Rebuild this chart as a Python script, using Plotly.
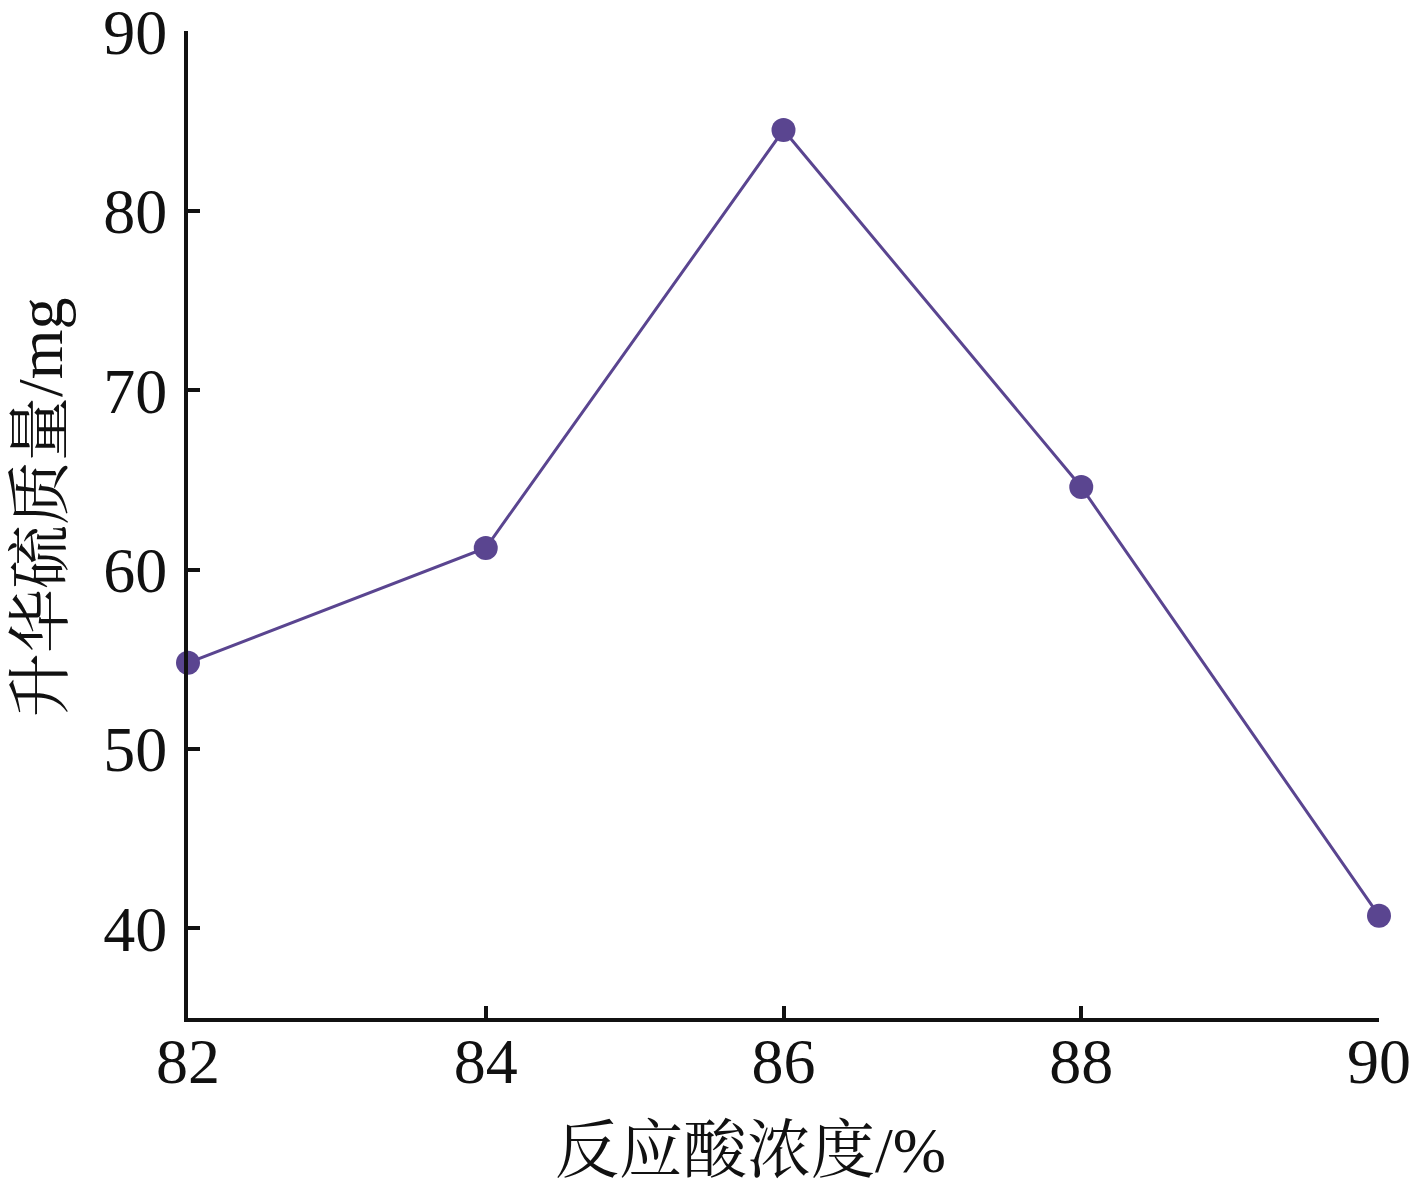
import plotly.graph_objects as go

x_vals = [82, 84, 86, 88, 90]
y_vals = [54.8, 61.2, 84.5, 64.6, 40.7]
x_ticks = [82, 84, 86, 88, 90]
y_ticks = [40, 50, 60, 70, 80, 90]
x_title = "反应酸浓度/%"
y_title = "升华硫质量/mg"

color = "#5a4590"
font_family = "Liberation Serif, Times New Roman, Noto Serif CJK SC, Noto Sans CJK SC, serif"

# page body has an 8px offset; plot area target: x 188..1379, y 31..1018 on screen
OFF = 8
L, R, T, B = 188 - OFF, 1417 - 1379, 31 - OFF, 1181 - 1018
W, H = 1417 - OFF, 1181 - OFF
PW, PH = 1379 - 188, 1018 - 31

fig = go.Figure()
fig.add_trace(go.Scatter(
    x=x_vals, y=y_vals, mode="lines+markers",
    line=dict(color=color, width=3),
    marker=dict(color=color, size=24),
    cliponaxis=False,
))

fig.update_layout(
    width=W, height=H,
    margin=dict(l=L, r=R, t=T, b=B),
    paper_bgcolor="white", plot_bgcolor="white",
    showlegend=False,
    font=dict(family=font_family, color="#111111", size=60),
)
fig.update_xaxes(
    range=[82, 90], tickvals=x_ticks, ticktext=[str(v) for v in x_ticks],
    showline=True, linecolor="#111111", linewidth=4, mirror=False,
    ticks="inside", ticklen=12, tickwidth=4, tickcolor="#111111",
    showgrid=False, zeroline=False, automargin=False,
    ticklabeloverflow="allow", ticklabelstandoff=-16,
    tickfont=dict(size=64, family=font_family),
)
fig.update_yaxes(
    range=[35, 90.02], tickvals=y_ticks, ticktext=[str(v) for v in y_ticks],
    showline=True, linecolor="#111111", linewidth=4, mirror=False,
    ticks="inside", ticklen=12, tickwidth=4, tickcolor="#111111",
    showgrid=False, zeroline=False, automargin=False,
    ticklabeloverflow="allow", ticklabelstandoff=4,
    tickfont=dict(size=64, family=font_family),
)
fig.add_annotation(
    text=x_title, xref="paper", yref="paper", x=(750 - 188) / PW,
    y=-(1150 - 1018) / PH, showarrow=False, xanchor="center", yanchor="middle",
    font=dict(size=64, family=font_family, color="#111111"),
)
fig.add_annotation(
    text=y_title, xref="paper", yref="paper", x=-(188 - 40) / PW,
    y=(1018 - 507) / PH, showarrow=False, xanchor="center", yanchor="middle",
    textangle=-90, font=dict(size=64, family=font_family, color="#111111"),
)

fig.write_html("out.html")
